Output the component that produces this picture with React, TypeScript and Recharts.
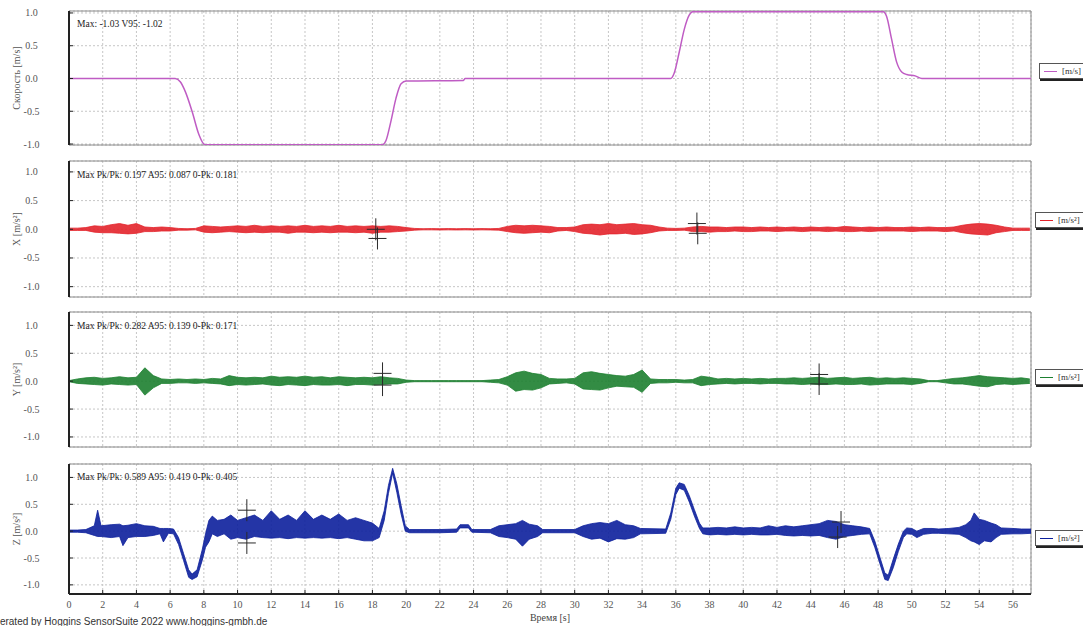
import React from 'react';
import {
  ComposedChart,
  Line,
  Area,
  XAxis,
  YAxis,
  CartesianGrid,
  ReferenceArea,
  ReferenceDot,
} from 'recharts';

// ---------- data ----------
const X_MAX = 57.07;
const timeTicks = [0, 2, 4, 6, 8, 10, 12, 14, 16, 18, 20, 22, 24, 26, 28, 30, 32, 34, 36, 38, 40, 42, 44, 46, 48, 50, 52, 54, 56];
const valueTicks = [-1, -0.5, 0, 0.5, 1];

// velocity [m/s]
const vTime = [0, 6.3, 6.6, 6.9, 7.3, 7.7, 8.0, 8.1, 18.6, 18.8, 19.1, 19.4, 19.7, 20.0, 23.4, 23.5, 35.7, 35.9, 36.2, 36.5, 36.8, 37.0, 48.3, 48.5, 48.8, 49.1, 49.4, 49.7, 50.2, 50.6, 57.1];
const vValue = [0, 0, -0.05, -0.2, -0.5, -0.85, -1.0, -1.01, -1.01, -0.95, -0.65, -0.3, -0.08, -0.04, -0.03, 0, 0, 0.08, 0.4, 0.75, 0.97, 1.02, 1.02, 0.95, 0.6, 0.25, 0.1, 0.06, 0.04, 0, 0];

// X / Y acceleration envelopes (min / max per 0.5 s)
const xyTime = [0, 0.5, 1, 1.5, 2, 2.5, 3, 3.5, 4, 4.5, 5, 5.5, 6, 6.5, 7, 7.5, 8, 8.5, 9, 9.5, 10, 10.5, 11, 11.5, 12, 12.5, 13, 13.5, 14, 14.5, 15, 15.5, 16, 16.5, 17, 17.5, 18, 18.5, 19, 19.5, 20, 20.5, 21, 21.5, 22, 22.5, 23, 23.5, 24, 24.5, 25, 25.5, 26, 26.5, 27, 27.5, 28, 28.5, 29, 29.5, 30, 30.5, 31, 31.5, 32, 32.5, 33, 33.5, 34, 34.5, 35, 35.5, 36, 36.5, 37, 37.5, 38, 38.5, 39, 39.5, 40, 40.5, 41, 41.5, 42, 42.5, 43, 43.5, 44, 44.5, 45, 45.5, 46, 46.5, 47, 47.5, 48, 48.5, 49, 49.5, 50, 50.5, 51, 51.5, 52, 52.5, 53, 53.5, 54, 54.5, 55, 55.5, 56, 56.5, 57];

const xHi = [0.02, 0.02, 0.03, 0.06, 0.05, 0.08, 0.1, 0.07, 0.1, 0.04, 0.03, 0.04, 0.03,
  0.015, 0.01, 0.015,
  0.06, 0.05, 0.04, 0.05, 0.06, 0.05, 0.07, 0.05, 0.06, 0.05, 0.06, 0.05, 0.07, 0.05, 0.06, 0.05, 0.07, 0.05, 0.06, 0.05, 0.06, 0.05, 0.06, 0.05,
  0.03, 0.015, 0.01, 0.012, 0.01, 0.012, 0.01, 0.012, 0.01, 0.012, 0.01, 0.015,
  0.05, 0.07, 0.06, 0.07, 0.06, 0.05, 0.03, 0.03, 0.04,
  0.08, 0.09, 0.08, 0.1, 0.08, 0.09, 0.1, 0.08, 0.07, 0.04,
  0.02, 0.015, 0.02,
  0.04, 0.05, 0.04, 0.04, 0.03, 0.04, 0.04, 0.03, 0.04, 0.03, 0.04, 0.03, 0.04, 0.03, 0.04, 0.03, 0.04, 0.03, 0.05, 0.04, 0.03, 0.04, 0.03, 0.04, 0.03, 0.03, 0.04, 0.03, 0.04, 0.03, 0.03, 0.04,
  0.07, 0.09, 0.1, 0.09, 0.07, 0.04, 0.02, 0.02, 0.02];
const xLo = [-0.02, -0.02, -0.02, -0.05, -0.06, -0.06, -0.07, -0.08, -0.07, -0.04, -0.04, -0.03, -0.03,
  -0.015, -0.015, -0.01,
  -0.05, -0.06, -0.05, -0.04, -0.05, -0.06, -0.05, -0.06, -0.05, -0.05, -0.07, -0.05, -0.05, -0.06, -0.05, -0.06, -0.05, -0.05, -0.06, -0.05, -0.07, -0.05, -0.05, -0.04,
  -0.03, -0.015, -0.01, -0.01, -0.012, -0.01, -0.012, -0.01, -0.012, -0.01, -0.012, -0.015,
  -0.04, -0.06, -0.07, -0.06, -0.05, -0.06, -0.03, -0.02, -0.04,
  -0.07, -0.08, -0.1, -0.08, -0.08, -0.07, -0.09, -0.08, -0.06, -0.03,
  -0.02, -0.02, -0.015,
  -0.04, -0.04, -0.05, -0.04, -0.04, -0.03, -0.04, -0.04, -0.03, -0.03, -0.04, -0.03, -0.03, -0.04, -0.03, -0.03, -0.04, -0.03, -0.04, -0.04, -0.03, -0.04, -0.03, -0.03, -0.03, -0.03, -0.04, -0.03, -0.03, -0.03, -0.04, -0.03,
  -0.06, -0.08, -0.09, -0.1, -0.06, -0.04, -0.02, -0.02, -0.02];

const yHi = [0.01, 0.04, 0.06, 0.07, 0.05, 0.06, 0.08, 0.06, 0.07, 0.24, 0.1,
  0.04, 0.03, 0.04, 0.03, 0.04, 0.03, 0.05, 0.04,
  0.1, 0.07, 0.06, 0.07, 0.06, 0.09, 0.07, 0.08, 0.07, 0.09, 0.07, 0.08, 0.06, 0.08, 0.07, 0.06, 0.07, 0.06, 0.08, 0.06, 0.05,
  0.02, 0.01, 0.01, 0.01, 0.01, 0.01, 0.01, 0.01, 0.01, 0.01, 0.02, 0.03,
  0.08, 0.15, 0.18, 0.14, 0.12, 0.05, 0.04, 0.04, 0.05, 0.15, 0.17, 0.14, 0.12, 0.1, 0.09, 0.12, 0.2,
  0.04, 0.03, 0.03, 0.03, 0.02, 0.03,
  0.09, 0.07, 0.04, 0.05, 0.04, 0.05, 0.04, 0.05, 0.04, 0.05, 0.05, 0.06, 0.05, 0.06, 0.07, 0.05, 0.06, 0.07, 0.05, 0.06, 0.07, 0.05, 0.06, 0.05, 0.06, 0.05, 0.04,
  0.01, 0.01, 0.03, 0.05, 0.06, 0.08, 0.1, 0.08, 0.07, 0.06, 0.05, 0.06, 0.04];
const yLo = [-0.01, -0.04, -0.05, -0.06, -0.07, -0.05, -0.06, -0.07, -0.06, -0.25, -0.12,
  -0.04, -0.04, -0.03, -0.03, -0.04, -0.03, -0.04, -0.05,
  -0.08, -0.06, -0.07, -0.06, -0.05, -0.07, -0.08, -0.06, -0.07, -0.08, -0.06, -0.07, -0.07, -0.06, -0.08, -0.06, -0.06, -0.07, -0.06, -0.05, -0.05,
  -0.02, -0.01, -0.01, -0.01, -0.01, -0.01, -0.01, -0.01, -0.01, -0.01, -0.02, -0.03,
  -0.07, -0.18, -0.15, -0.16, -0.12, -0.05, -0.04, -0.03, -0.05, -0.14, -0.15, -0.16, -0.12, -0.09, -0.1, -0.11, -0.2,
  -0.04, -0.03, -0.03, -0.02, -0.03, -0.03,
  -0.08, -0.06, -0.05, -0.04, -0.05, -0.04, -0.04, -0.05, -0.04, -0.04, -0.05, -0.05, -0.06, -0.05, -0.06, -0.06, -0.05, -0.06, -0.06, -0.05, -0.07, -0.06, -0.05, -0.05, -0.05, -0.06, -0.04,
  -0.01, -0.01, -0.03, -0.05, -0.05, -0.07, -0.09, -0.1, -0.06, -0.05, -0.06, -0.05, -0.04];

// Z acceleration envelope
const zTime = [0, 0.5, 1, 1.5, 1.7, 1.9, 2.5, 3, 3.2, 3.5, 4, 4.5, 5, 5.4, 5.6, 5.9, 6.2, 6.5, 6.8, 7.1, 7.3, 7.6, 7.9, 8.1, 8.3, 8.5, 8.8, 9.2, 9.6, 10, 10.5, 11, 11.5, 12, 12.5, 13, 13.5, 14, 14.5, 15, 15.5, 16, 16.5, 17, 17.5, 18, 18.4, 18.7, 18.95, 19.2, 19.45, 19.7, 19.95, 20.2, 21, 22, 23, 23.2, 23.7, 23.9, 25, 25.5, 26, 26.5, 26.9, 27.3, 27.8, 28.1, 30, 30.5, 31, 31.5, 32, 32.5, 33, 33.5, 33.9, 35.4, 35.7, 36, 36.2, 36.5, 36.8, 37.1, 37.4, 37.6, 38, 38.5, 39, 39.5, 40, 40.5, 41, 41.5, 42, 42.5, 43, 43.5, 44, 44.5, 45, 45.5, 46, 46.5, 47, 47.5, 47.8, 48.1, 48.4, 48.6, 48.9, 49.2, 49.5, 49.7, 50, 50.3, 50.7, 51.2, 51.6, 52.2, 52.8, 53.2, 53.5, 53.7, 54, 54.3, 54.7, 55, 55.3, 56, 56.5, 57.1];
const zLo = [-0.02, -0.02, -0.03, -0.08, -0.1, -0.1, -0.12, -0.1, -0.27, -0.12,
  -0.1, -0.1, -0.08, -0.05, -0.2, -0.04, -0.05, -0.25, -0.55, -0.86,
  -0.9, -0.85, -0.55, -0.3, -0.2, -0.05, -0.1, -0.05, -0.15, -0.12,
  -0.15, -0.1, -0.12, -0.13, -0.12, -0.14, -0.12, -0.13, -0.12, -0.13,
  -0.12, -0.14, -0.12, -0.15, -0.18, -0.18, -0.12, 0.2, 0.7, 1.08,
  0.72, 0.32, 0, -0.03, -0.03, -0.03, -0.02, 0.06, 0.06, -0.02,
  -0.03, -0.1, -0.12, -0.15, -0.28, -0.15, -0.1, -0.03, -0.03, -0.1,
  -0.15, -0.13, -0.2, -0.14, -0.15, -0.12, -0.05, -0.04, 0.22, 0.68,
  0.8, 0.76, 0.54, 0.28, 0.05, -0.05, -0.07, -0.06, -0.07, -0.06,
  -0.07, -0.06, -0.07, -0.07, -0.06, -0.08, -0.09, -0.08, -0.09, -0.08,
  -0.12, -0.15, -0.1, -0.08, -0.06, -0.05, -0.3, -0.6, -0.9, -0.92,
  -0.68, -0.38, -0.12, -0.05, -0.06, -0.12, -0.06, -0.04, -0.04, -0.05,
  -0.06, -0.12, -0.18, -0.2, -0.25, -0.18, -0.2, -0.12, -0.06, -0.05,
  -0.05, -0.04];
const zHi = [0.02, 0.02, 0.03, 0.1, 0.39, 0.1, 0.12, 0.13, 0.1, 0.11,
  0.14, 0.1, 0.09, 0.05, 0.05, 0.05, 0.04, -0.12, -0.42, -0.72,
  -0.8, -0.72, -0.35, -0.05, 0.2, 0.28, 0.2, 0.22, 0.3, 0.2,
  0.25, 0.3, 0.2, 0.38, 0.22, 0.3, 0.2, 0.38, 0.22, 0.3,
  0.22, 0.32, 0.2, 0.25, 0.2, 0.15, 0.05, 0.38, 0.85, 1.17,
  0.88, 0.48, 0.1, 0.03, 0.03, 0.03, 0.04, 0.12, 0.12, 0.03,
  0.03, 0.1, 0.12, 0.14, 0.2, 0.13, 0.1, 0.03, 0.03, 0.1,
  0.14, 0.16, 0.14, 0.2, 0.12, 0.1, 0.05, 0.04, 0.34, 0.8,
  0.9, 0.87, 0.66, 0.4, 0.15, 0.06, 0.06, 0.07, 0.06, 0.08,
  0.06, 0.07, 0.06, 0.1, 0.07, 0.1, 0.08, 0.1, 0.12, 0.14,
  0.2, 0.18, 0.12, 0.1, 0.08, 0.05, -0.18, -0.48, -0.78, -0.82,
  -0.52, -0.24, 0, 0.06, 0.05, 0, 0.05, 0.05, 0.04, 0.05,
  0.07, 0.12, 0.2, 0.34, 0.22, 0.2, 0.15, 0.12, 0.06, 0.05,
  0.04, 0.04];

// cursor markers (time, value)
const xMarkT = [18.2, 18.3, 37.25, 37.3];
const xMarkV = [0.0, -0.16, 0.1, -0.07];
const yMarkT = [18.6, 18.6, 44.5, 44.5];
const yMarkV = [0.14, -0.07, 0.12, -0.05];
const zMarkT = [10.55, 10.55, 45.8, 45.6];
const zMarkV = [0.39, -0.22, 0.17, -0.11];

const stats = [
  'Max: -1.03 V95: -1.02',
  'Max Pk/Pk: 0.197 A95: 0.087 0-Pk: 0.181',
  'Max Pk/Pk: 0.282 A95: 0.139 0-Pk: 0.171',
  'Max Pk/Pk: 0.589 A95: 0.419 0-Pk: 0.405',
];

// ---------- derived tables ----------
const vData = vTime.map((t, i) => ({ t, v: vValue[i] }));
const xData = xyTime.map((t, i) => ({ t, band: [xLo[i], xHi[i]] }));
const yData = xyTime.map((t, i) => ({ t, band: [yLo[i], yHi[i]] }));
const zData = zTime.map((t, i) => ({ t, band: [zLo[i], zHi[i]] }));

// ---------- styling ----------
const FONT = '"Liberation Serif", "Times New Roman", serif';
const W = 1083;
const PLOT_LEFT = 69;
const RIGHT_MARGIN = 52;

const Crosshair = (props: any) => {
  const { cx, cy } = props;
  if (cx == null || cy == null) return null;
  return (
    <g stroke="#2a2a2a" strokeWidth={1}>
      <line x1={cx - 9} x2={cx + 9} y1={cy} y2={cy} />
      <line x1={cx} x2={cx} y1={cy - 11} y2={cy + 11} />
    </g>
  );
};

type PanelProps = {
  plotTop: number;
  plotH: number;
  yDomain: [number, number];
  data: any[];
  yLabel: string;
  showTime?: boolean;
  children?: React.ReactNode;
};

function Panel({ plotTop, plotH, yDomain, data, yLabel, showTime, children }: PanelProps) {
  const mTop = 6;
  const xAxisH = showTime ? 32 : 0;
  const mBottom = showTime ? 0 : 8;
  const height = mTop + plotH + xAxisH + mBottom;
  const plotBottom = mTop + plotH;

  const yTick = (p: any) => (
    <g>
      <line x1={PLOT_LEFT} x2={PLOT_LEFT + 4} y1={p.y} y2={p.y} stroke="#222" />
      <text x={31.5} y={p.y} dy={3.5} textAnchor="middle" fontSize={10} fill="#555" fontFamily={FONT}>
        {Number(p.payload.value).toFixed(1)}
      </text>
    </g>
  );
  const xTick = (p: any) => (
    <g>
      <line x1={p.x} x2={p.x} y1={plotBottom} y2={plotBottom - 4} stroke="#222" />
      {showTime ? (
        <text x={p.x} y={plotBottom + 14} textAnchor="middle" fontSize={10} fill="#555" fontFamily={FONT}>
          {p.payload.value}
        </text>
      ) : null}
    </g>
  );

  return (
    <div style={{ position: 'absolute', left: 0, top: plotTop - mTop }}>
      <ComposedChart width={W} height={height} data={data} margin={{ top: mTop, right: RIGHT_MARGIN, bottom: mBottom, left: 0 }}>
        <CartesianGrid stroke="#c6c6c6" strokeDasharray="2 2" />
        <ReferenceArea x1={0} x2={X_MAX} y1={yDomain[0]} y2={yDomain[1]} fill="#ffffff" fillOpacity={0} stroke="#8a8a8a" strokeWidth={1} />
        <XAxis
          type="number"
          dataKey="t"
          domain={[0, X_MAX]}
          ticks={timeTicks}
          interval={0}
          allowDataOverflow
          height={xAxisH}
          tickLine={false}
          axisLine={{ stroke: '#222', strokeWidth: 2 }}
          tick={xTick}
          label={
            showTime
              ? { value: 'Время [s]', position: 'insideBottom', offset: 5, style: { fontSize: 10, fill: '#444', fontFamily: FONT } }
              : undefined
          }
        />
        <YAxis
          type="number"
          domain={yDomain}
          ticks={valueTicks}
          interval={0}
          allowDataOverflow
          width={PLOT_LEFT}
          tickLine={false}
          axisLine={{ stroke: '#222', strokeWidth: 2 }}
          tick={yTick}
          label={{
            value: yLabel,
            angle: -90,
            position: 'insideLeft',
            offset: 16,
            style: { textAnchor: 'middle', fontSize: 10, fill: '#555', fontFamily: FONT },
          }}
        />
        {children}
      </ComposedChart>
    </div>
  );
}

function LegendBox({ top, left, color, text }: { top: number; left: number; color: string; text: string }) {
  return (
    <div
      style={{
        position: 'absolute',
        left,
        top,
        width: 60,
        height: 16,
        border: '1px solid #555',
        background: '#fff',
        boxShadow: '1px 2px 0 #222',
        display: 'flex',
        alignItems: 'center',
        boxSizing: 'border-box',
      }}
    >
      <span style={{ display: 'inline-block', width: 13, borderTop: `1px solid ${color}`, marginLeft: 4 }} />
      <span style={{ marginLeft: 5, fontSize: 9, fontFamily: FONT, color: '#333', whiteSpace: 'nowrap' }}>{text}</span>
    </div>
  );
}

function Stat({ top, text }: { top: number; text: string }) {
  return (
    <div style={{ position: 'absolute', left: 77, top, fontSize: 9.5, lineHeight: '12px', fontFamily: FONT, color: '#222', whiteSpace: 'nowrap' }}>
      {text}
    </div>
  );
}

const VEL = '#bf5cc4';
const RED = '#e3232b';
const GREEN = '#1d8030';
const BLUE = '#0c1f9c';

export default function App() {
  return (
    <div style={{ position: 'absolute', left: 0, top: 0, width: W, height: 626, overflow: 'hidden', background: '#fff' }}>
      <Panel plotTop={11} plotH={134} yDomain={[-1.015, 1.03]} data={vData} yLabel="Скорость [m/s]">
        <Line type="monotone" dataKey="v" stroke={VEL} strokeWidth={1.5} dot={false} activeDot={false} isAnimationActive={false} />
      </Panel>

      <Panel plotTop={161} plotH={136} yDomain={[-1.18, 1.19]} data={xData} yLabel="X [m/s²]">
        <Area type="linear" dataKey="band" stroke={RED} strokeWidth={0.8} fill={RED} fillOpacity={0.9} dot={false} activeDot={false} isAnimationActive={false} />
        {xMarkT.map((t, i) => (
          <ReferenceDot key={i} x={t} y={xMarkV[i]} r={1} shape={Crosshair} />
        ))}
      </Panel>

      <Panel plotTop={312} plotH={135} yDomain={[-1.18, 1.24]} data={yData} yLabel="Y [m/s²]">
        <Area type="linear" dataKey="band" stroke={GREEN} strokeWidth={0.8} fill={GREEN} fillOpacity={0.9} dot={false} activeDot={false} isAnimationActive={false} />
        {yMarkT.map((t, i) => (
          <ReferenceDot key={i} x={t} y={yMarkV[i]} r={1} shape={Crosshair} />
        ))}
      </Panel>

      <Panel plotTop={464} plotH={130} yDomain={[-1.17, 1.25]} data={zData} yLabel="Z [m/s²]" showTime>
        <Area type="linear" dataKey="band" stroke={BLUE} strokeWidth={0.8} fill={BLUE} fillOpacity={0.9} dot={false} activeDot={false} isAnimationActive={false} />
        {zMarkT.map((t, i) => (
          <ReferenceDot key={i} x={t} y={zMarkV[i]} r={1} shape={Crosshair} />
        ))}
      </Panel>

      <Stat top={18} text={stats[0]} />
      <Stat top={169} text={stats[1]} />
      <Stat top={320} text={stats[2]} />
      <Stat top={471} text={stats[3]} />

      <LegendBox top={63} left={1039} color={VEL} text="[m/s]" />
      <LegendBox top={212} left={1035} color={RED} text="[m/s²]" />
      <LegendBox top={369} left={1035} color={GREEN} text="[m/s²]" />
      <LegendBox top={530} left={1035} color={BLUE} text="[m/s²]" />

      <div style={{ position: 'absolute', left: -19, top: 616, fontSize: 10, lineHeight: '12px', fontFamily: '"Liberation Sans", Arial, sans-serif', color: '#333', whiteSpace: 'nowrap' }}>
        Generated by Hoggins SensorSuite 2022 www.hoggins-gmbh.de
      </div>
    </div>
  );
}
